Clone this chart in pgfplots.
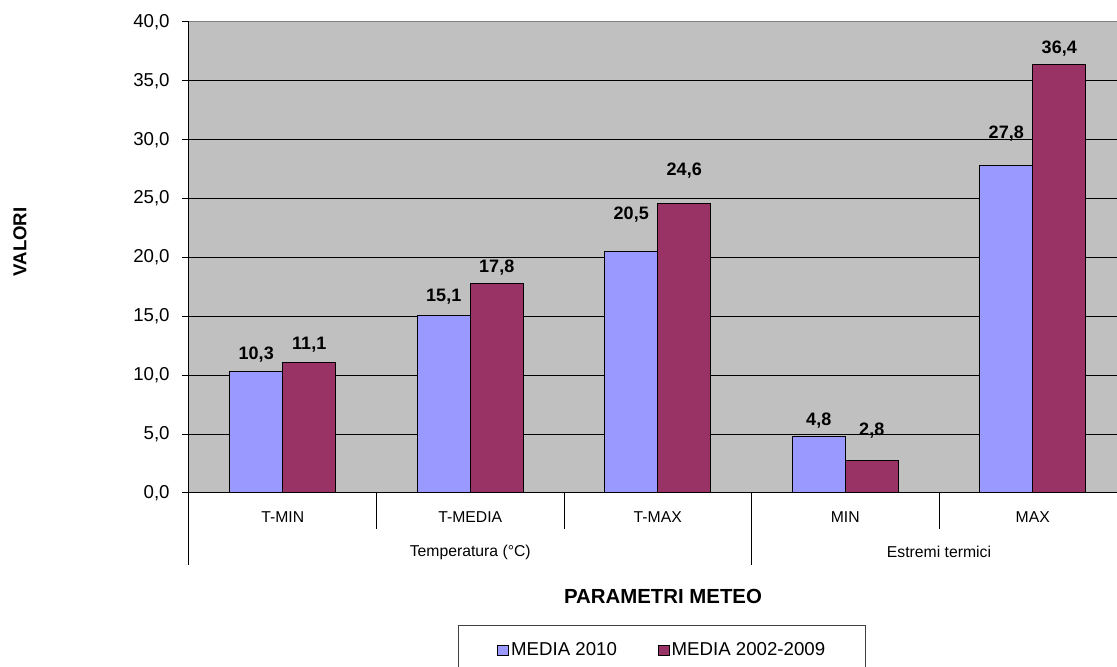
\documentclass[border=0pt]{standalone}
\usepackage{fontspec}
\setmainfont{Liberation Sans}
\usepackage{pgfplots}
\pgfplotsset{compat=1.18}
\usepackage{pgfplotstable}

\definecolor{barblue}{HTML}{9999FF}
\definecolor{barwine}{HTML}{993366}
\definecolor{plotgrey}{HTML}{C0C0C0}

\pgfkeys{/pgf/number format/.cd, fixed, fixed zerofill, precision=1, use comma, assume math mode=true}

% x: category index, y: value, off: label lift above the bar (px)
\pgfplotstableread{
x y off
0 10.3 17
1 15.1 18.5
2 20.5 37
3 4.8 15.5
4 27.8 32
}\mediadieci
\pgfplotstableread{
x y off
0 11.1 18
1 17.8 16
2 24.6 33
3 2.8 29
4 36.4 16
}\mediastorica

\begin{document}
\begin{tikzpicture}
\useasboundingbox (0,0) rectangle (837.75pt,500.25pt);
\begin{axis}[
    at={(141.75pt,130.5pt)}, anchor=south west,
    scale only axis, width=703.125pt, height=353.25pt,
    xmin=-0.5, xmax=4.5, ymin=0, ymax=40,
    enlargelimits=false, clip=false,
    ybar=0pt, bar width=39.75pt,
    axis background/.style={fill=plotgrey},
    axis x line*=bottom, axis y line*=left,
    axis line style={black, line width=0.75pt, -},
    ymajorgrids, grid style={black, line width=0.75pt},
    ytick={0,5,...,40},
    tick align=outside, major tick length=5pt,
    y tick style={black, line width=0.75pt},
    x tick style={draw=none},
    xtick={0,...,4},
    xticklabels={T-MIN,T-MEDIA,T-MAX,MIN,MAX},
    xticklabel style={anchor=center, yshift=-13pt, font=\fontsize{11.8pt}{13pt}\selectfont},
    yticklabel style={anchor=east, xshift=-6pt, font=\fontsize{14pt}{16pt}\selectfont},
    ylabel={VALORI},
    ylabel style={at={(axis description cs:-0.1803,0.533)}, anchor=center, font=\bfseries\fontsize{14pt}{16pt}\selectfont},
    xlabel={PARAMETRI METEO},
    xlabel style={at={(axis description cs:0.5056,-0.2187)}, anchor=center, font=\bfseries\fontsize{15.3pt}{17pt}\selectfont},
    nodes near coords,
    visualization depends on={\thisrow{off} \as \labeloff},
    every node near coord/.append style={anchor=center, inner sep=0pt, yshift=\labeloff*0.75pt, font=\bfseries\fontsize{13.5pt}{15pt}\selectfont},
    legend columns=2,
    legend style={at={(axis description cs:0.2869,-0.2803)}, anchor=north west,
        draw=black!75, line width=0.75pt, fill=white,
        inner xsep=29pt, inner ysep=11pt,
        font=\fontsize{14pt}{16pt}\selectfont,
        nodes={inner xsep=1.5pt},
        /tikz/every even column/.append style={column sep=29pt}},
    legend image code/.code={\draw[#1, draw=black, line width=0.5pt] (0pt,-3.75pt) rectangle (8.5pt,3.75pt);},
]
\addplot[fill=barblue, draw=black, line width=0.75pt] table[x=x, y=y] {\mediadieci};
\addplot[fill=barwine, draw=black, line width=0.75pt] table[x=x, y=y] {\mediastorica};
\legend{MEDIA 2010, MEDIA 2002-2009}

\draw[gray, line width=0.75pt] (rel axis cs:0,1) -- (rel axis cs:1,1);
\draw[black, line width=0.75pt] (axis cs:-0.5,0) -- ([yshift=-54pt]axis cs:-0.5,0);
\draw[black, line width=0.75pt] (axis cs:0.5,0) -- ([yshift=-27pt]axis cs:0.5,0);
\draw[black, line width=0.75pt] (axis cs:1.5,0) -- ([yshift=-27pt]axis cs:1.5,0);
\draw[black, line width=0.75pt] (axis cs:2.5,0) -- ([yshift=-54pt]axis cs:2.5,0);
\draw[black, line width=0.75pt] (axis cs:3.5,0) -- ([yshift=-27pt]axis cs:3.5,0);
\draw[black, line width=0.75pt] (axis cs:4.5,0) -- ([yshift=-54pt]axis cs:4.5,0);
\node[font=\fontsize{11.8pt}{13pt}\selectfont] at ([yshift=-44.25pt]axis cs:1,0) {Temperatura (°C)};
\node[font=\fontsize{11.8pt}{13pt}\selectfont] at ([yshift=-44.25pt]axis cs:3.5,0) {Estremi termici};
\end{axis}
\end{tikzpicture}
\end{document}
